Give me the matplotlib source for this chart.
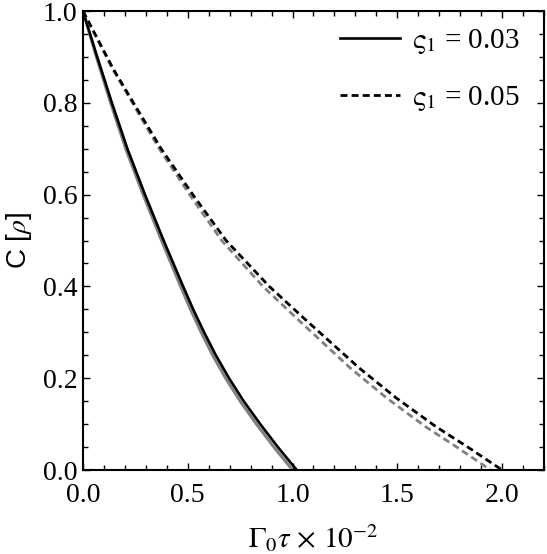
import matplotlib
matplotlib.use("Agg")
import matplotlib.pyplot as plt
from matplotlib.ticker import MultipleLocator, FormatStrFormatter

# values
solid_black_x = [0.0, 0.068, 0.138, 0.212, 0.296, 0.385, 0.478, 0.526, 0.578, 0.634, 0.697, 0.767, 0.846, 0.93, 1.02]
solid_black_y = [1.0, 0.9, 0.8, 0.7, 0.6, 0.5, 0.4, 0.35, 0.3, 0.25, 0.2, 0.15, 0.1, 0.05, 0.0]
solid_gray_x = [0.0, 0.064, 0.132, 0.204, 0.287, 0.375, 0.466, 0.513, 0.564, 0.619, 0.681, 0.75, 0.828, 0.911, 1.0]
solid_gray_y = [1.0, 0.9, 0.8, 0.7, 0.6, 0.5, 0.4, 0.35, 0.3, 0.25, 0.2, 0.15, 0.1, 0.05, 0.0]

dash_black_x = [0.0, 0.143, 0.233, 0.373, 0.524, 0.683, 0.889, 1.063, 1.319, 1.495, 1.686, 1.843, 2.0]
dash_black_y = [1.0, 0.875, 0.806, 0.7, 0.6, 0.5, 0.4, 0.327, 0.222, 0.157, 0.094, 0.048, 0.0]
dash_gray_x = [0.0, 0.14, 0.228, 0.364, 0.509, 0.662, 0.859, 1.028, 1.276, 1.449, 1.636, 1.79, 1.945]
dash_gray_y = [1.0, 0.875, 0.806, 0.7, 0.6, 0.5, 0.4, 0.327, 0.222, 0.157, 0.094, 0.048, 0.0]

legend_labels = [r"$\mathrm{\varsigma}_1$ = 0.03", r"$\mathrm{\varsigma}_1$ = 0.05"]

plt.rcParams['font.family'] = ['Liberation Serif', 'DejaVu Serif']
plt.rcParams['mathtext.fontset'] = 'stix'

fig = plt.figure(figsize=(5.47, 5.54), dpi=100)
ax = fig.add_axes([0.1517, 0.1516, 0.8428, 0.8285])

gray = '#808080'
dash = (2.5, 1.5)
ax.plot(solid_gray_x, solid_gray_y, color=gray, lw=2.2)
ax.plot(solid_black_x, solid_black_y, color='black', lw=1.9, label=legend_labels[0])
ax.plot(dash_gray_x, dash_gray_y, color=gray, lw=2.0, dashes=dash)
ax.plot(dash_black_x, dash_black_y, color='black', lw=2.0, dashes=dash,
        label=legend_labels[1])

ax.set_xlim(0, 2.2)
ax.set_ylim(0, 1.0)
ax.xaxis.set_major_locator(MultipleLocator(0.5))
ax.xaxis.set_minor_locator(MultipleLocator(0.1))
ax.yaxis.set_major_locator(MultipleLocator(0.2))
ax.yaxis.set_minor_locator(MultipleLocator(0.05))
ax.xaxis.set_major_formatter(FormatStrFormatter('%.1f'))
ax.yaxis.set_major_formatter(FormatStrFormatter('%.1f'))

ax.tick_params(which='both', direction='in', top=True, right=True,
               labelsize=20, width=1.0, color='black')
ax.tick_params(which='major', length=5.2)
ax.tick_params(which='minor', length=3.5)
ax.tick_params(axis='x', which='major', pad=9)
ax.tick_params(axis='y', which='major', pad=4)
for s in ax.spines.values():
    s.set_linewidth(1.5)

ax.set_xlabel(r"$\Gamma_0\tau\,\times\,10^{-2}$", fontsize=21, labelpad=11)
ax.set_ylabel(r"C [$\rho$]", fontsize=20, family='Liberation Sans', labelpad=6)

leg = ax.legend(loc='upper left', bbox_to_anchor=(0.557, 0.965), frameon=False,
                fontsize=21, handlelength=2.05, handletextpad=0.42,
                labelspacing=0.95, borderpad=0, borderaxespad=0)

fig.savefig('out.png', dpi=100, facecolor='white')
